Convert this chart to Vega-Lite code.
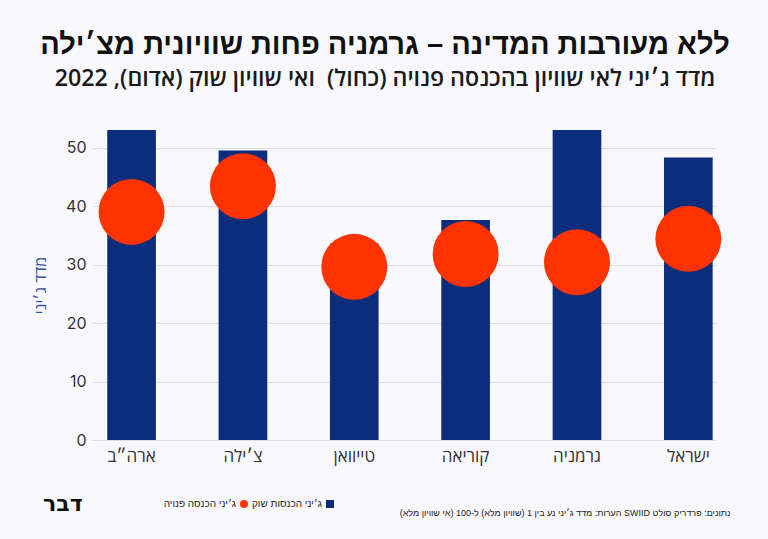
{
  "$schema": "https://vega.github.io/schema/vega-lite/v6.json",
  "width": 624,
  "height": 310,
  "autosize": {"type": "none"},
  "padding": {"left": 92, "top": 130, "right": 52, "bottom": 99},
  "background": "#f9f8fd",
  "title": {
    "text": "ללא מעורבות המדינה – גרמניה פחות שוויונית מצ׳ילה",
    "subtitle": "מדד ג׳יני לאי שוויון בהכנסה פנויה (כחול)\u00a0 ואי שוויון שוק (אדום), 2022",
    "anchor": "middle",
    "frame": "group",
    "dx": -19,
    "offset": 40,
    "font": "Liberation Sans, DejaVu Sans",
    "fontSize": 29,
    "fontWeight": 900,
    "color": "#111111",
    "subtitleFont": "Open Sans, Liberation Sans, DejaVu Sans",
    "subtitleFontSize": 23.2,
    "subtitleFontWeight": 600,
    "subtitleColor": "#1a1a1a",
    "subtitlePadding": 8
  },
  "data": {
    "values": [
      {"country": "ארה״ב", "series": "ג׳יני הכנסות שוק", "gini": 53.0},
      {"country": "צ׳ילה", "series": "ג׳יני הכנסות שוק", "gini": 49.5},
      {"country": "טייוואן", "series": "ג׳יני הכנסות שוק", "gini": 33.6},
      {"country": "קוריאה", "series": "ג׳יני הכנסות שוק", "gini": 37.6},
      {"country": "גרמניה", "series": "ג׳יני הכנסות שוק", "gini": 53.0},
      {"country": "ישראל", "series": "ג׳יני הכנסות שוק", "gini": 48.3},
      {"country": "ארה״ב", "series": "ג׳יני הכנסה פנויה", "gini": 39.0},
      {"country": "צ׳ילה", "series": "ג׳יני הכנסה פנויה", "gini": 43.4},
      {"country": "טייוואן", "series": "ג׳יני הכנסה פנויה", "gini": 29.6},
      {"country": "קוריאה", "series": "ג׳יני הכנסה פנויה", "gini": 31.8},
      {"country": "גרמניה", "series": "ג׳יני הכנסה פנויה", "gini": 30.4},
      {"country": "ישראל", "series": "ג׳יני הכנסה פנויה", "gini": 34.4}
    ]
  },
  "encoding": {
    "x": {
      "field": "country",
      "type": "nominal",
      "sort": ["ארה״ב", "צ׳ילה", "טייוואן", "קוריאה", "גרמניה", "ישראל"],
      "scale": {"paddingInner": 0.563, "paddingOuter": 0.0835, "align": 0.82},
      "axis": {
        "labelAngle": 0,
        "labelFont": "Open Sans, Liberation Sans, DejaVu Sans",
        "labelFontSize": 17,
        "labelColor": "#333333",
        "labelPadding": 8,
        "ticks": false,
        "domain": false,
        "grid": false,
        "title": "הערות: מדד ג׳יני נע בין 1 (שוויון מלא) ל-100 (אי שוויון מלא)\u200f SWIID \u200fנתונים: פרדריק סולט",
        "titleFont": "Liberation Sans, DejaVu Sans",
        "titleFontSize": 9,
        "titleFontWeight": "normal",
        "titleColor": "#222222",
        "titleLimit": 0,
        "titleX": 638,
        "titleY": 75,
        "titleAlign": "right",
        "titleBaseline": "alphabetic"
      }
    },
    "y": {
      "field": "gini",
      "type": "quantitative",
      "scale": {"domain": [0, 53], "nice": false},
      "axis": {
        "values": [0, 10, 20, 30, 40, 50],
        "grid": true,
        "gridColor": "#dfdee8",
        "gridWidth": 1,
        "domain": false,
        "ticks": false,
        "labelPadding": 6,
        "labelFont": "Inter",
        "labelFontSize": 16,
        "labelColor": "#333333",
        "title": "מדד ג׳יני",
        "titleFont": "Open Sans, Liberation Sans, DejaVu Sans",
        "titleFontSize": 16,
        "titleFontWeight": "normal",
        "titleColor": "#2f52a0",
        "titleAngle": -90,
        "titleX": -52,
        "titleY": 155,
        "titleBaseline": "middle",
        "titleAlign": "center"
      }
    }
  },
  "layer": [
    {
      "transform": [{"filter": "datum.series === 'ג׳יני הכנסות שוק'"}],
      "mark": {"type": "bar"},
      "encoding": {
        "color": {
          "field": "series",
          "type": "nominal",
          "scale": {
            "domain": ["ג׳יני הכנסה פנויה", "ג׳יני הכנסות שוק"],
            "range": ["#fe3300", "#0b2d7b"]
          },
          "legend": {
            "title": "דבר",
            "orient": "none",
            "legendX": -49,
            "legendY": 369,
            "direction": "horizontal"
          }
        }
      }
    },
    {
      "transform": [{"filter": "datum.series === 'ג׳יני הכנסה פנויה'"}],
      "mark": {"type": "point", "filled": true, "opacity": 1, "size": 4356, "strokeWidth": 0},
      "encoding": {
        "color": {"field": "series", "type": "nominal"},
        "shape": {
          "field": "series",
          "type": "nominal",
          "scale": {
            "domain": ["ג׳יני הכנסה פנויה", "ג׳יני הכנסות שוק"],
            "range": ["circle", "square"]
          },
          "legend": {
            "title": "דבר",
            "orient": "none",
            "legendX": -49,
            "legendY": 369,
            "direction": "horizontal"
          }
        }
      }
    }
  ],
  "config": {
    "view": {"stroke": null},
    "legend": {
      "titleOrient": "left",
      "titleFont": "DejaVu Sans, Liberation Sans",
      "titleFontSize": 22,
      "titleFontWeight": 900,
      "titleColor": "#111111",
      "titlePadding": 156,
      "titleBaseline": "middle",
      "symbolSize": 64,
      "symbolStrokeWidth": 0,
      "labelFont": "Liberation Sans, DejaVu Sans",
      "labelFontSize": 10,
      "labelColor": "#222222",
      "labelAlign": "right",
      "labelOffset": -13,
      "columnPadding": 3
    }
  }
}
